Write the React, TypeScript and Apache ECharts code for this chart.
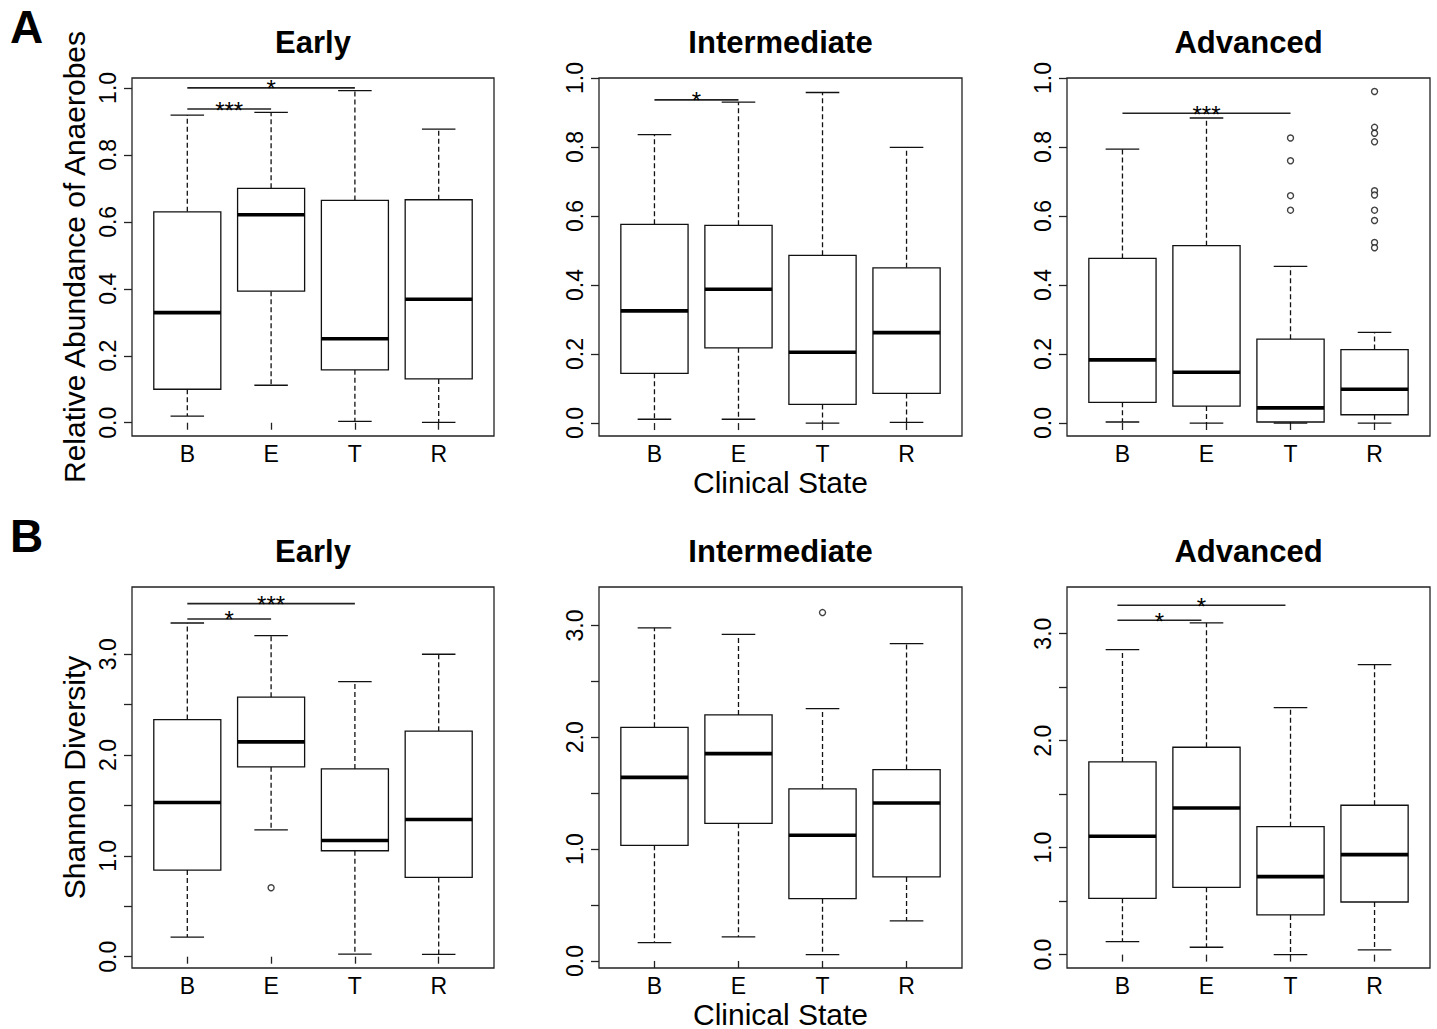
import React, { useEffect, useRef } from 'react';
import * as echarts from 'echarts';

// ---------------- data ----------------
const CATEGORIES = ['B', 'E', 'T', 'R'];
const PANEL_TITLES = ['Early', 'Intermediate', 'Advanced'];
const ROW_LETTERS = ['A', 'B'];
const Y_TITLES = ['Relative Abundance of Anaerobes', 'Shannon Diversity'];
const X_TITLE = 'Clinical State';

// each box: [lower whisker, Q1, median, Q3, upper whisker]
const A_EARLY = [
  [0.020, 0.100, 0.329, 0.630, 0.919],
  [0.112, 0.393, 0.621, 0.700, 0.927],
  [0.004, 0.158, 0.251, 0.664, 0.992],
  [0.001, 0.131, 0.369, 0.666, 0.877],
];
const A_INTER = [
  [0.011, 0.144, 0.325, 0.576, 0.836],
  [0.011, 0.218, 0.388, 0.573, 0.930],
  [0.000, 0.054, 0.205, 0.486, 0.958],
  [0.002, 0.086, 0.262, 0.450, 0.799],
];
const A_ADV = [
  [0.003, 0.060, 0.183, 0.477, 0.794],
  [0.000, 0.049, 0.147, 0.514, 0.884],
  [0.000, 0.003, 0.044, 0.243, 0.454],
  [0.000, 0.024, 0.098, 0.213, 0.263],
];
const B_EARLY = [
  [0.195, 0.859, 1.530, 2.352, 3.310],
  [1.259, 1.883, 2.131, 2.574, 3.185],
  [0.026, 1.051, 1.153, 1.863, 2.729],
  [0.023, 0.786, 1.361, 2.237, 3.000],
];
const B_INTER = [
  [0.164, 1.034, 1.642, 2.089, 2.978],
  [0.215, 1.231, 1.854, 2.200, 2.921],
  [0.057, 0.557, 1.124, 1.538, 2.256],
  [0.358, 0.751, 1.413, 1.711, 2.838],
];
const B_ADV = [
  [0.121, 0.526, 1.106, 1.801, 2.850],
  [0.069, 0.629, 1.371, 1.938, 3.100],
  [0.000, 0.371, 0.729, 1.196, 2.308],
  [0.044, 0.492, 0.935, 1.396, 2.710],
];

// outliers per category (B, E, T, R)
const A_EARLY_OUT: number[][] = [[], [], [], []];
const A_INTER_OUT: number[][] = [[], [], [], []];
const A_ADV_OUT: number[][] = [
  [],
  [],
  [0.826, 0.760, 0.659, 0.617],
  [0.961, 0.857, 0.840, 0.815, 0.673, 0.661, 0.617, 0.587, 0.523, 0.508],
];
const B_EARLY_OUT: number[][] = [[], [0.684], [], []];
const B_INTER_OUT: number[][] = [[], [], [3.115], []];
const B_ADV_OUT: number[][] = [[], [], [], []];

// significance bars: [from category position, to category position, y]
const A_EARLY_SIG = [[1, 2, 0.937], [1, 3, 1.0]];
const A_EARLY_SIG_LABELS = ['***', '*'];
const A_INTER_SIG = [[1, 2, 0.9365]];
const A_INTER_SIG_LABELS = ['*'];
const A_ADV_SIG = [[1, 3, 0.898]];
const A_ADV_SIG_LABELS = ['***'];
const B_EARLY_SIG = [[1, 2, 3.35], [1, 3, 3.502]];
const B_EARLY_SIG_LABELS = ['*', '***'];
const B_INTER_SIG: number[][] = [];
const B_INTER_SIG_LABELS: string[] = [];
const B_ADV_SIG = [[0.94, 1.94, 3.125], [0.94, 2.94, 3.265]];
const B_ADV_SIG_LABELS = ['*', '*'];

// axis ranges and ticks
const X_RANGE = [0.34, 4.66];
const X_TICKS = [1, 2, 3, 4];
const A_Y_RANGES = [[-0.0396, 1.0296], [-0.0375, 1.0], [-0.0376, 1.0]];
const B_Y_RANGES = [[-0.112, 3.667], [-0.063, 3.344], [-0.125, 3.436]];
const A_Y_TICKS = [0, 0.2, 0.4, 0.6, 0.8, 1.0];
const A_Y_LABELS = [0, 0.2, 0.4, 0.6, 0.8, 1.0];
const B_Y_TICKS = [0, 0.5, 1, 1.5, 2, 2.5, 3];
const B_Y_LABELS = [0, 1, 2, 3];

// ---------------- layout / style ----------------
const FONT = '"Liberation Sans", Arial, Helvetica, sans-serif';
const INK = '#111';
const COL_LEFT = [132, 599, 1067];
const COL_WIDTH = [362, 363, 363];
const ROW_TOP = [78, 587];
const ROW_HEIGHT = [358, 381];
const BOX_WIDTH = 0.8;
const LW = 1.3;

function boxSeries(data: number[][], idx: number) {
  return {
    type: 'custom',
    xAxisIndex: idx,
    yAxisIndex: idx,
    data: data.map((d, i) => [i + 1, ...d]),
    encode: { x: 0, y: [1, 2, 3, 4, 5] },
    z: 3,
    renderItem: (_params: any, api: any) => {
      const x = api.value(0);
      const lo = api.coord([x, api.value(1)]);
      const q1 = api.coord([x, api.value(2)]);
      const md = api.coord([x, api.value(3)]);
      const q3 = api.coord([x, api.value(4)]);
      const hi = api.coord([x, api.value(5)]);
      const half = api.size([BOX_WIDTH, 0])[0] / 2;
      const cap = half / 2;
      const cx = lo[0];
      const thin = { stroke: INK, lineWidth: LW, fill: null };
      const dash = { stroke: INK, lineWidth: LW, lineDash: [5, 3], fill: null };
      return {
        type: 'group',
        children: [
          { type: 'line', shape: { x1: cx, y1: q1[1], x2: cx, y2: lo[1] }, style: dash },
          { type: 'line', shape: { x1: cx, y1: q3[1], x2: cx, y2: hi[1] }, style: dash },
          { type: 'line', shape: { x1: cx - cap, y1: lo[1], x2: cx + cap, y2: lo[1] }, style: thin },
          { type: 'line', shape: { x1: cx - cap, y1: hi[1], x2: cx + cap, y2: hi[1] }, style: thin },
          {
            type: 'rect',
            shape: { x: cx - half, y: q3[1], width: 2 * half, height: q1[1] - q3[1] },
            style: { stroke: INK, lineWidth: LW, fill: '#fff' },
          },
          {
            type: 'line',
            shape: { x1: cx - half, y1: md[1], x2: cx + half, y2: md[1] },
            style: { stroke: '#000', lineWidth: 3.6 },
          },
        ],
      };
    },
  };
}

function outlierSeries(out: number[][], idx: number) {
  const pts: number[][] = [];
  out.forEach((vals, i) => vals.forEach((v) => pts.push([i + 1, v])));
  return {
    type: 'scatter',
    xAxisIndex: idx,
    yAxisIndex: idx,
    data: pts,
    symbol: 'circle',
    symbolSize: 6,
    z: 4,
    itemStyle: { color: '#fff', borderColor: INK, borderWidth: 1.4 },
  };
}

function sigSeries(sig: number[][], labels: string[], idx: number) {
  return {
    type: 'custom',
    xAxisIndex: idx,
    yAxisIndex: idx,
    data: sig,
    encode: { x: [0, 1], y: 2 },
    z: 5,
    renderItem: (params: any, api: any) => {
      const a = api.coord([api.value(0), api.value(2)]);
      const b = api.coord([api.value(1), api.value(2)]);
      const label = labels[params.dataIndex];
      return {
        type: 'group',
        children: [
          {
            type: 'line',
            shape: { x1: a[0], y1: a[1], x2: b[0], y2: b[1] },
            style: { stroke: '#222', lineWidth: 1.6 },
          },
          {
            type: 'text',
            x: (a[0] + b[0]) / 2,
            y: a[1] + 1,
            style: {
              text: label,
              fontSize: 24,
              fontFamily: FONT,
              fill: '#000',
              align: 'center',
              verticalAlign: 'middle',
              textAlign: 'center',
              textVerticalAlign: 'middle',
            },
          },
        ],
      };
    },
  };
}

function textEl(
  text: string, x: number, y: number, fontSize: number, bold: boolean,
  rotation = 0, align = 'center'
) {
  return {
    type: 'text',
    x,
    y,
    rotation,
    style: {
      text,
      fontSize,
      lineHeight: Math.round(fontSize * 0.9),
      fontWeight: bold ? 'bold' : 'normal',
      fontFamily: FONT,
      fill: '#000',
      align,
      verticalAlign: 'middle',
      textAlign: align,
      textVerticalAlign: 'middle',
    },
  };
}

function buildOption() {
  const boxes = [A_EARLY, A_INTER, A_ADV, B_EARLY, B_INTER, B_ADV];
  const outs = [A_EARLY_OUT, A_INTER_OUT, A_ADV_OUT, B_EARLY_OUT, B_INTER_OUT, B_ADV_OUT];
  const sigs = [A_EARLY_SIG, A_INTER_SIG, A_ADV_SIG, B_EARLY_SIG, B_INTER_SIG, B_ADV_SIG];
  const sigLabels = [
    A_EARLY_SIG_LABELS, A_INTER_SIG_LABELS, A_ADV_SIG_LABELS,
    B_EARLY_SIG_LABELS, B_INTER_SIG_LABELS, B_ADV_SIG_LABELS,
  ];

  const grids: any[] = [];
  const xAxes: any[] = [];
  const yAxes: any[] = [];
  const series: any[] = [];
  const graphics: any[] = [];

  for (let r = 0; r < 2; r++) {
    for (let c = 0; c < 3; c++) {
      const idx = r * 3 + c;
      grids.push({
        left: COL_LEFT[c],
        top: ROW_TOP[r],
        width: COL_WIDTH[c],
        height: ROW_HEIGHT[r],
        show: true,
        borderColor: '#222',
        borderWidth: LW,
        backgroundColor: 'transparent',
        containLabel: false,
      });
      xAxes.push({
        type: 'value',
        gridIndex: idx,
        min: X_RANGE[0],
        max: X_RANGE[1],
        axisLine: { show: false },
        splitLine: { show: false },
        axisTick: {
          show: true,
          length: 7,
          inside: false,
          customValues: X_TICKS,
          lineStyle: { color: '#222', width: LW },
        },
        axisLabel: {
          show: true,
          customValues: X_TICKS,
          margin: 6,
          fontSize: 23,
          fontFamily: FONT,
          color: '#000',
          formatter: (v: number) => CATEGORIES[Math.round(v) - 1] ?? '',
        },
      });
      const range = r === 0 ? A_Y_RANGES[c] : B_Y_RANGES[c];
      yAxes.push({
        type: 'value',
        gridIndex: idx,
        min: range[0],
        max: range[1],
        axisLine: { show: false },
        splitLine: { show: false },
        axisTick: {
          show: true,
          length: 8,
          inside: false,
          customValues: r === 0 ? A_Y_TICKS : B_Y_TICKS,
          lineStyle: { color: '#222', width: LW },
        },
        axisLabel: {
          show: true,
          customValues: r === 0 ? A_Y_LABELS : B_Y_LABELS,
          rotate: 90,
          margin: 13,
          fontSize: 23,
          fontFamily: FONT,
          color: '#000',
          formatter: (v: number) => v.toFixed(1),
        },
      });
      series.push(boxSeries(boxes[idx], idx));
      series.push(outlierSeries(outs[idx], idx));
      if (sigs[idx].length) series.push(sigSeries(sigs[idx], sigLabels[idx], idx));

      // panel title
      const cx = COL_LEFT[c] + COL_WIDTH[c] / 2;
      graphics.push(textEl(PANEL_TITLES[c], cx, ROW_TOP[r] - 36, 31, true));
    }
    // row letter
    graphics.push(textEl(ROW_LETTERS[r], 10, ROW_TOP[r] - 51, 46, true, 0, 'left'));
    // y axis title
    graphics.push(textEl(Y_TITLES[r], 74, ROW_TOP[r] + ROW_HEIGHT[r] / 2, 30, false, Math.PI / 2));
    // x axis title (middle column)
    graphics.push(
      textEl(X_TITLE, COL_LEFT[1] + COL_WIDTH[1] / 2, ROW_TOP[r] + ROW_HEIGHT[r] + 46, 30, false)
    );
  }

  return {
    animation: false,
    backgroundColor: '#fff',
    grid: grids,
    xAxis: xAxes,
    yAxis: yAxes,
    series,
    graphic: { elements: graphics },
  };
}

export default function App() {
  const ref = useRef<HTMLDivElement>(null);
  useEffect(() => {
    document.body.style.margin = '0';
    if (!ref.current) return;
    const chart = echarts.init(ref.current, undefined, { renderer: 'svg' });
    chart.setOption(buildOption() as any);
    return () => chart.dispose();
  }, []);
  return (
    <div
      ref={ref}
      style={{ position: 'absolute', left: 0, top: 0, width: 1437, height: 1029, background: '#fff' }}
    />
  );
}
